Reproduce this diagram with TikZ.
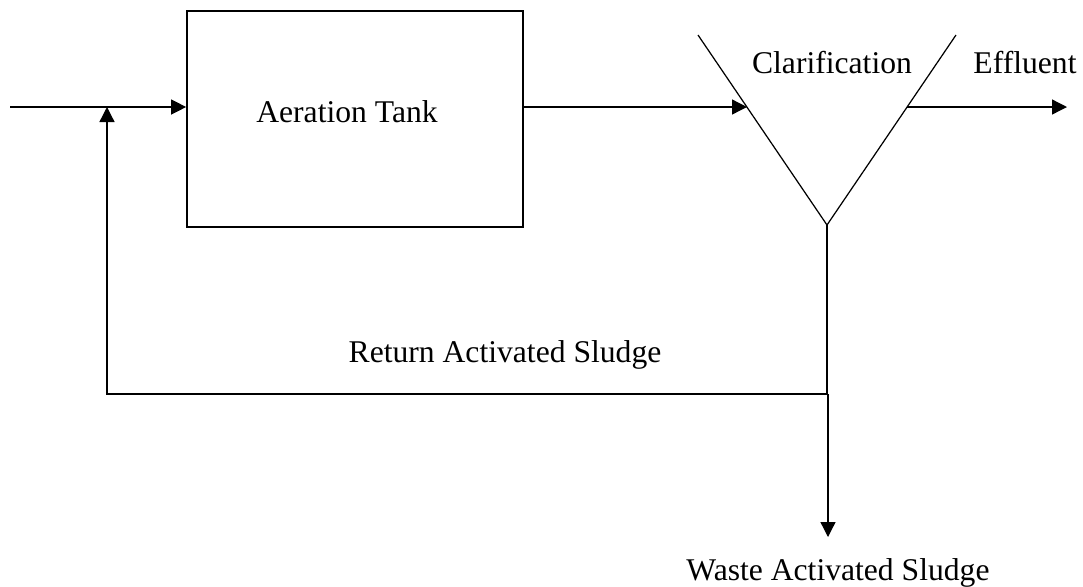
\documentclass[tikz,border=0pt]{standalone}
\usepackage{fontspec}
\setmainfont{Liberation Serif}
\usetikzlibrary{arrows.meta}
\begin{document}
\begin{tikzpicture}[x=0.02cm,y=-0.02cm,
  flow/.style={line width=0.75pt,-{Triangle[length=0.3cm,width=0.3cm]}},
  pipe/.style={line width=0.75pt},
  tankbox/.style={draw,line width=1pt,minimum width=6.72cm,minimum height=4.32cm,inner sep=0pt},
  lbl/.style={anchor=base,inner sep=0pt,font=\fontsize{18}{22}\selectfont}]
\useasboundingbox (0,0) rectangle (1083,586);

% aeration tank
\node[tankbox] (tank) at (355,119) {};
\node[lbl] (tanklabel) at (347,122) {Aeration Tank};

% clarifier cone
\coordinate (clL) at (698,35);
\coordinate (clR) at (956,35);
\coordinate (clB) at (827,225);
\draw[line width=0.7pt] (clL) -- (clB) -- (clR);
\coordinate (clIn) at (747,107);
\coordinate (clOut) at (907,107);
\node[lbl] (clabel) at (832,73) {Clarification};

% feed line and junction with the return flow
\coordinate (feed) at (10,107);
\coordinate (join) at (107,107);
\coordinate (tankIn) at (tank.west |- feed);
\coordinate (tankOut) at (tank.east |- feed);
\draw[flow] (feed) -- (tankIn);
\draw[flow] (tankOut) -- (clIn);

% effluent
\coordinate (eff) at (1067,107);
\draw[flow] (clOut) -- (eff);
\node[lbl] (efflabel) at (1025,73) {Effluent};

% underflow, return and waste sludge
\coordinate (split) at (828,394);
\coordinate (retCorner) at (107,394);
\coordinate (waste) at (828,537);
\draw[pipe] (clB) -- (clB |- split);
\draw[flow] (split) -- (waste);
\draw[flow] (split) -- (retCorner) -- (join);
\node[lbl] (ras) at (505,362) {Return Activated Sludge};
\node[lbl] (was) at (838,580) {Waste Activated Sludge};
\end{tikzpicture}
\end{document}
